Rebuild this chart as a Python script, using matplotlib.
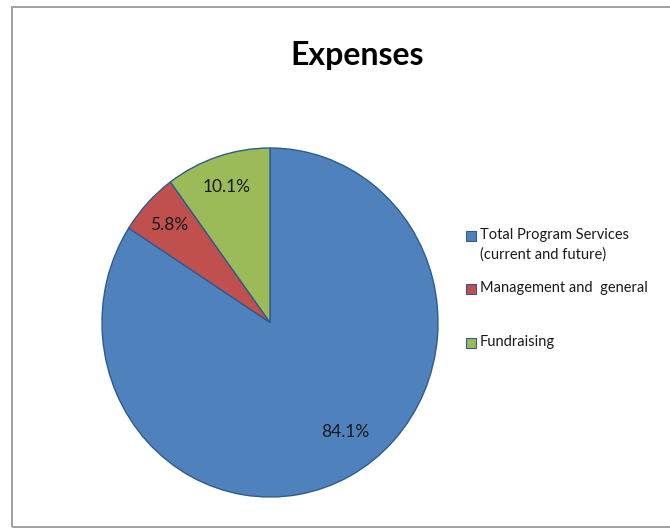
import matplotlib.pyplot as plt
from matplotlib.patches import Rectangle

# -- Data --
categories = ['Total Program Services\n(current and future)', 'Management and  general', 'Fundraising']
values = [84.1, 5.8, 10.1]
colors = ['#4F81BD', '#C0504D', '#9BBB59']
title = 'Expenses'

plt.rcParams['font.family'] = ['Lato', 'DejaVu Sans']

fig = plt.figure(figsize=(6.7, 5.29), dpi=100)
W, H = 670, 529

# chart border (right edge is cut off in the reference)
fig.patches.append(Rectangle((12 / W, 2 / H), 1.0, 520 / H, transform=fig.transFigure,
                             fill=False, edgecolor='#A0A0A0', linewidth=1.4))

ax = fig.add_axes([102 / W, 32 / H, 336 / W, 349 / H])
wedges, texts, autotexts = ax.pie(values, colors=colors, startangle=90, counterclock=False,
                                  autopct='%.1f%%', pctdistance=0.82,
                                  wedgeprops=dict(edgecolor='#2F5B8E', linewidth=1.0),
                                  textprops=dict(fontsize=12.5, color='#1a1a1a'))
ax.set_aspect('auto')
ax.set_xlim(-1, 1)
ax.set_ylim(-1, 1)
# Excel-style label spot for the big slice
autotexts[0].set_position((0.45, -0.63))

fig.text(357 / W, 1 - 56 / H, title, ha='center', va='center', fontsize=23, fontweight='bold')

# legend drawn by hand to match uneven spacing
legend_rows = [236, 289, 343]
for cat, col, y in zip(categories, colors, legend_rows):
    fig.patches.append(Rectangle((466 / W, 1 - (y + 5) / H), 10 / W, 10 / H, transform=fig.transFigure,
                                 facecolor=col, edgecolor='#2F5B8E', linewidth=0.8))
    fig.text(480 / W, 1 - (y - 8) / H, cat, ha='left', va='top', fontsize=10.5,
             color='#1a1a1a', linespacing=1.45)

fig.savefig('out.png', dpi=100)
